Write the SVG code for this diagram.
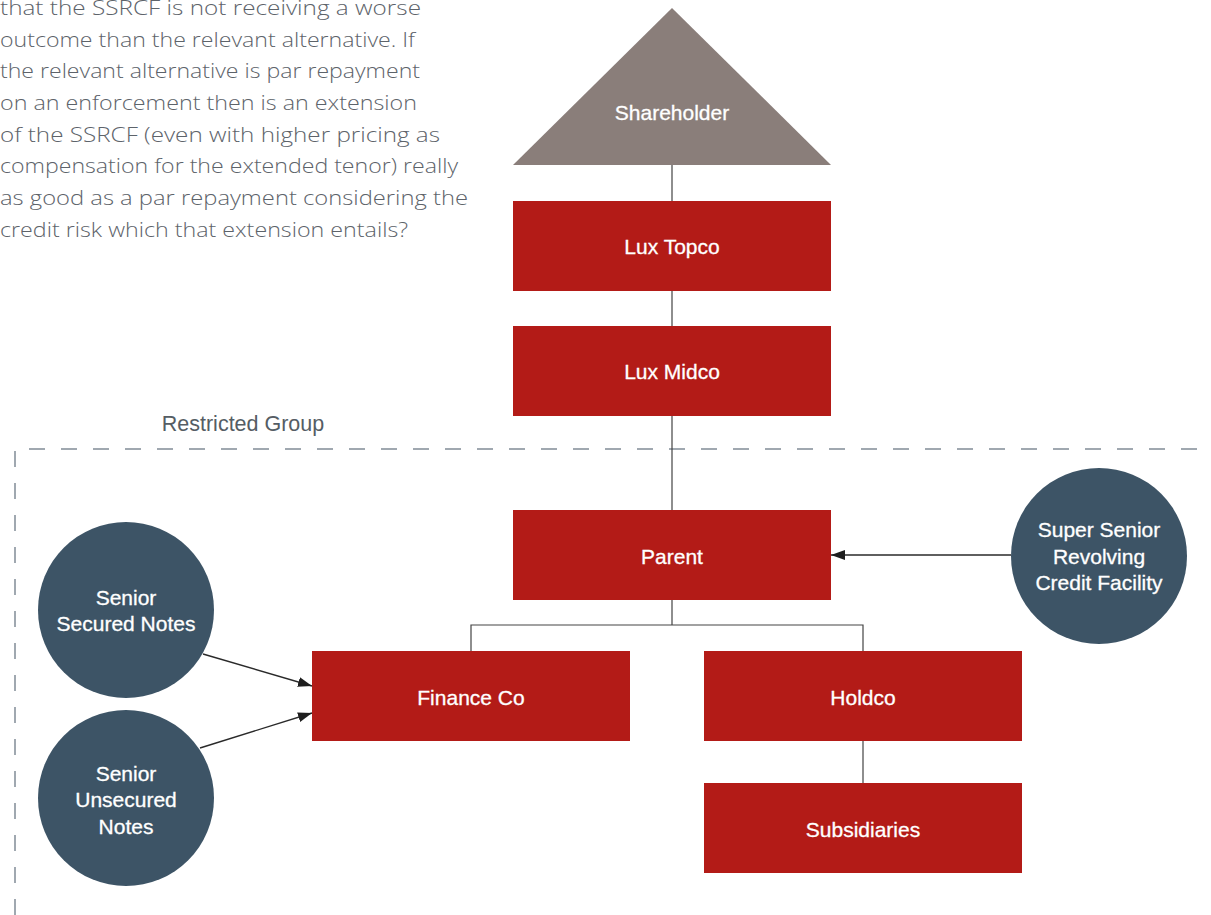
<svg xmlns="http://www.w3.org/2000/svg" width="1211" height="915" viewBox="0 0 1211 915">
<style>
.para{font-family:"Open Sans","Liberation Sans",Arial,sans-serif;font-weight:300;font-size:21px;fill:#5d636a}
.lbl{font-family:"Liberation Sans",Arial,sans-serif;font-size:21px;fill:#fff;stroke:#fff;stroke-width:0.3;text-anchor:middle;dominant-baseline:central}
.red{fill:#b31b17}
.slate{fill:#3d5466}
.tree{fill:none;stroke:#444;stroke-width:1.2}
.arr{fill:none;stroke:#2a2a2a;stroke-width:1.4;marker-end:url(#ah)}
</style>
<defs>
<marker id="ah" viewBox="0 0 14 10" refX="14" refY="5" markerWidth="14" markerHeight="10" markerUnits="userSpaceOnUse" orient="auto">
<path d="M0,0 L14,5 L0,10 z" fill="#1e1e1e"/>
</marker>
</defs>
<rect width="1211" height="915" fill="#fff"/>
<g id="paragraph" class="para">
<text x="0" y="15" textLength="421" lengthAdjust="spacingAndGlyphs">that the SSRCF is not receiving a worse</text>
<text x="0" y="46.7" textLength="415" lengthAdjust="spacingAndGlyphs">outcome than the relevant alternative. If</text>
<text x="0" y="78.4" textLength="420" lengthAdjust="spacingAndGlyphs">the relevant alternative is par repayment</text>
<text x="0" y="110" textLength="417" lengthAdjust="spacingAndGlyphs">on an enforcement then is an extension</text>
<text x="0" y="141.7" textLength="440" lengthAdjust="spacingAndGlyphs">of the SSRCF (even with higher pricing as</text>
<text x="0" y="173.4" textLength="458" lengthAdjust="spacingAndGlyphs">compensation for the extended tenor) really</text>
<text x="0" y="205" textLength="468" lengthAdjust="spacingAndGlyphs">as good as a par repayment considering the</text>
<text x="0" y="236.8" textLength="408" lengthAdjust="spacingAndGlyphs">credit risk which that extension entails?</text>
</g>
<g id="restricted-group">
<path d="M15,915 L15,449 L1211,449" fill="none" stroke="#a0a8b0" stroke-width="2" stroke-dasharray="16,16"/>
<text x="243" y="424" style="font-family:'Liberation Sans',Arial,sans-serif;font-size:21.5px;fill:#555d64;text-anchor:middle;dominant-baseline:central">Restricted Group</text>
</g>
<g id="connectors">
<path class="tree" d="M672,165 V201 M672,291 V326 M672,416 V510 M672,600 V625 M471,651 V625 H863 V651 M863,741 V783"/>
<path class="arr" d="M1011,555 H831"/>
<path class="arr" d="M203,654 L312,686"/>
<path class="arr" d="M200,748 L312,713"/>
</g>
<g id="shareholder">
<polygon points="672,8 831,165 513,165" fill="#8a7e7a"/>
<text class="lbl" x="672" y="112">Shareholder</text>
</g>
<g id="lux-topco">
<rect class="red" x="513" y="201" width="318" height="90"/>
<text class="lbl" x="672" y="246">Lux Topco</text>
</g>
<g id="lux-midco">
<rect class="red" x="513" y="326" width="318" height="90"/>
<text class="lbl" x="672" y="371">Lux Midco</text>
</g>
<g id="parent">
<rect class="red" x="513" y="510" width="318" height="90"/>
<text class="lbl" x="672" y="556">Parent</text>
</g>
<g id="finance-co">
<rect class="red" x="312" y="651" width="318" height="90"/>
<text class="lbl" x="471" y="697">Finance Co</text>
</g>
<g id="holdco">
<rect class="red" x="704" y="651" width="318" height="90"/>
<text class="lbl" x="863" y="697">Holdco</text>
</g>
<g id="subsidiaries">
<rect class="red" x="704" y="783" width="318" height="90"/>
<text class="lbl" x="863" y="829">Subsidiaries</text>
</g>
<g id="ssrcf">
<circle class="slate" cx="1099" cy="556" r="88"/>
<text class="lbl" x="1099" y="529">Super Senior</text>
<text class="lbl" x="1099" y="556">Revolving</text>
<text class="lbl" x="1099" y="582">Credit Facility</text>
</g>
<g id="senior-secured-notes">
<circle class="slate" cx="126" cy="610" r="88"/>
<text class="lbl" x="126" y="597">Senior</text>
<text class="lbl" x="126" y="623">Secured Notes</text>
</g>
<g id="senior-unsecured-notes">
<circle class="slate" cx="126" cy="798" r="88"/>
<text class="lbl" x="126" y="773">Senior</text>
<text class="lbl" x="126" y="799">Unsecured</text>
<text class="lbl" x="126" y="826">Notes</text>
</g>
</svg>
